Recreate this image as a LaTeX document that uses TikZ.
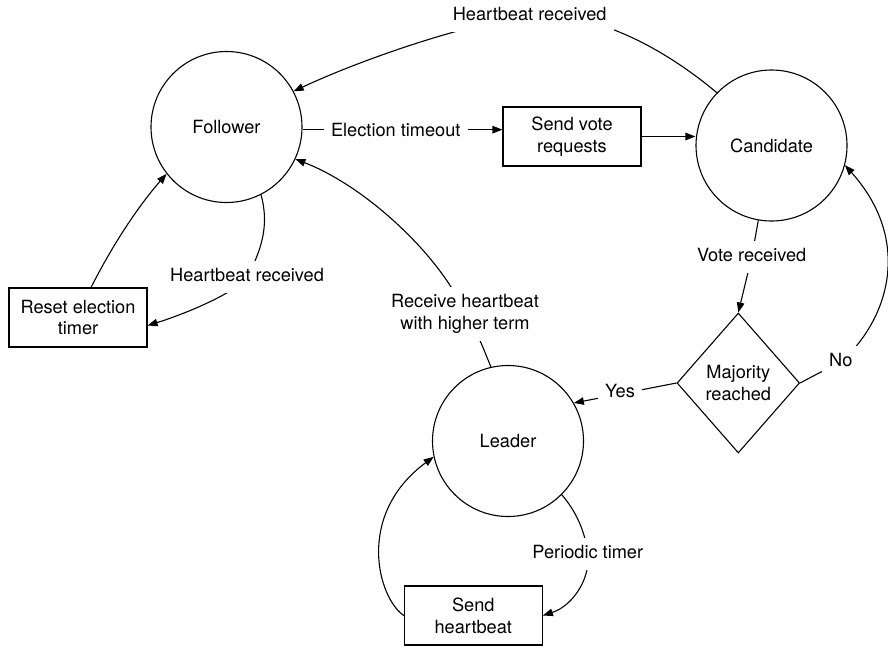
\documentclass[tikz,border=0pt]{standalone}
\usepackage{fontspec}
\setmainfont{TeX Gyre Heros}
\usetikzlibrary{arrows.meta,shapes.geometric,calc}
\begin{document}
\begin{tikzpicture}[x=1pt,y=-1pt,
  every node/.style={font=\fontsize{18.2}{21.7}\selectfont},
  state/.style={draw,circle,line width=1.1pt,minimum size=151pt,inner sep=0pt},
  action/.style={draw,rectangle,line width=1.1pt,minimum width=138pt,minimum height=59pt,inner sep=0pt,align=center},
  decision/.style={draw,diamond,line width=1.1pt,minimum width=122.6pt,minimum height=140pt,inner sep=0pt,align=center},
  flow/.style={line width=1.1pt,-{Triangle[length=10pt,width=7.5pt]}},
  lbl/.style={fill=white,inner sep=7.5pt,align=center},
  oneline/.style={lbl,text height=13pt,text depth=4pt}
]
\useasboundingbox (0,0) rectangle (888,646);

% states, actions and the decision
\node[state] (fol)  at (226.5,127)   {Follower};
\node[state] (cand) at (771.5,145.5) {Candidate};
\node[state] (lead) at (508,441)     {Leader};
\node[action] (vote)  at (572,136.5)   {Send vote\\requests};
\node[action] (reset) at (78,317.5)    {Reset election\\timer};
\node[action] (hb)    at (473.3,615.5) {Send\\heartbeat};
\node[decision] (dia) at (738.3,383)   {Majority\\reached};

% where the edge labels sit
\coordinate (ptop)   at (529.7,16.2);
\coordinate (ptime)  at (395.8,131.5);
\coordinate (pfhb)   at (247,276.5);
\coordinate (pvote)  at (751.7,257.2);
\coordinate (pno)    at (840.8,362.2);
\coordinate (pyes)   at (620,393.2);
\coordinate (precv)  at (465,314);
\coordinate (pper)   at (587.8,553.8);

% transitions
\draw[flow] (cand.136) .. controls (660,45) and (590,10) .. (ptop)
            .. controls (470,22) and (360,60) .. (fol.28);
\draw[flow] (fol.-2) -- (fol.-2 -| vote.west);
\draw[flow] (vote.east) -- (vote.east -| cand.west);
\draw[flow] (cand.260.5) -- (pvote) -- (dia.north);
\draw[flow] (dia.east) .. controls (815,375) .. (pno)
            .. controls (890,318) and (912,240) .. (cand.-15);
\draw[flow] (dia.west) -- (lead.30);
\draw[flow] (fol.-63) .. controls (268,220) and (265,245) .. (pfhb)
            .. controls (238,292) and (185,314) .. ($(reset.east)+(0,8)$);
\draw[flow] ($(reset.north)+(13,0)$) .. controls (110,250) and (135,210) .. (fol.218);
\draw[flow] (lead.103) .. controls (478,335) .. (precv)
            .. controls (445,262) and (370,188) .. (fol.-25);
\draw[flow] (lead.-45) .. controls (575,510) and (585,530) .. (pper)
            .. controls (591,575) and (575,605) .. (hb.east);
\draw[flow] (hb.west) .. controls (378,598) and (355,515) .. (lead.192);

% edge labels
\node[oneline] (ltop)  at (ptop)  {Heartbeat received};
\node[oneline] (ltime) at (ptime) {Election timeout};
\node[oneline] (lfhb)  at (pfhb)  {Heartbeat received};
\node[oneline] (lvote) at (pvote) {Vote received};
\node[oneline] (lno)   at (pno)   {No};
\node[oneline] (lyes)  at (pyes)  {Yes};
\node[lbl]     (lrecv) at (precv) {Receive heartbeat\\with higher term};
\node[oneline] (lper)  at (pper)  {Periodic timer};
\end{tikzpicture}
\end{document}
